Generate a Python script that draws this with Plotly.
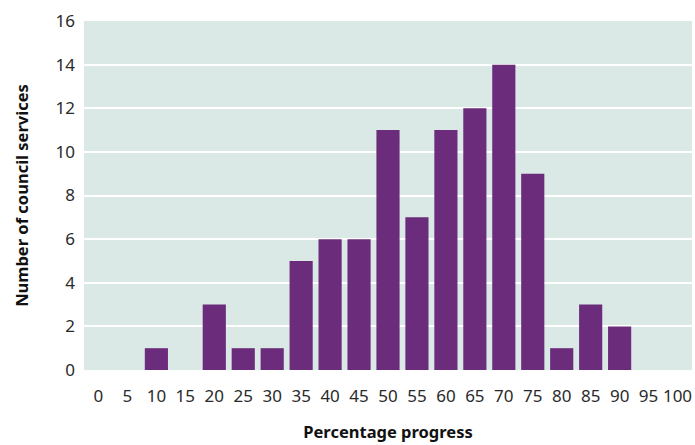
import plotly.graph_objects as go

# Percentage-progress bins and the number of council services in each
progress_bins = ["0", "5", "10", "15", "20", "25", "30", "35", "40", "45", "50",
                 "55", "60", "65", "70", "75", "80", "85", "90", "95", "100"]
service_counts = [0, 0, 1, 0, 3, 1, 1, 5, 6, 6, 11, 7, 11, 12, 14, 9, 1, 3, 2, 0, 0]
y_ticks = [0, 2, 4, 6, 8, 10, 12, 14, 16]

BAR_COLOR = "#6b2c7b"
PLOT_BG = "#dbe9e6"
FONT = "Noto Sans"

fig = go.Figure(
    go.Bar(
        x=progress_bins,
        y=service_counts,
        marker=dict(color=BAR_COLOR, line=dict(width=0)),
        hoverinfo="x+y",
    )
)

fig.update_layout(
    width=695,
    height=445,
    margin=dict(l=84, r=3, t=21, b=75),
    plot_bgcolor=PLOT_BG,
    paper_bgcolor="white",
    bargap=0.2,
    showlegend=False,
    font=dict(family=FONT, size=17, color="#222222"),
)

fig.update_xaxes(
    type="category",
    showgrid=False,
    zeroline=False,
    showline=False,
    ticks="",
    ticklabelstandoff=14,
    tickfont=dict(family=FONT, size=17, color="#2a2a2a"),
    title=dict(
        text="<b>Percentage progress</b>",
        font=dict(family=FONT, size=16.5, color="#111111"),
        standoff=20,
    ),
)

fig.update_yaxes(
    range=[0, 16],
    tickvals=y_ticks,
    showgrid=True,
    gridcolor="white",
    gridwidth=2,
    zeroline=False,
    showline=False,
    ticks="",
    ticklabelstandoff=8,
    tickfont=dict(family=FONT, size=17, color="#2a2a2a"),
    title=dict(
        text="<b>Number of council services</b>",
        font=dict(family=FONT, size=16.5, color="#111111"),
        standoff=22,
    ),
)

fig.write_html("out.html")
